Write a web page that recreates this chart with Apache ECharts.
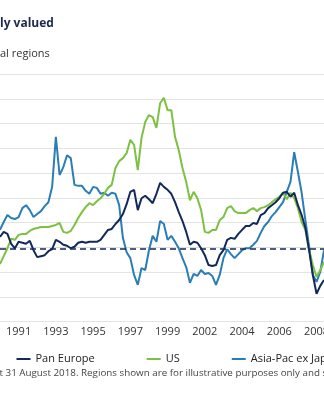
<!DOCTYPE html>
<html>
<head>
<meta charset="utf-8">
<script src="https://cdn.jsdelivr.net/npm/echarts@6/dist/echarts.min.js"></script>
<style>
  html, body { margin: 0; padding: 0; background: #ffffff; overflow: hidden; }
  #chart { width: 324px; height: 400px; }
</style>
</head>
<body>
<div id="chart"></div>
<script>
// Visible tick labels (every 10th sample, starting at sample 5)
const tickLabels = ['1991', '1993', '1995', '1997', '1999', '2002', '2004', '2006', '2008'];

// Valuation readings (relative to long-run average)
const panEurope = [0.21,0.31,0.27,0.07,-0.02,0.11,0.09,0.07,0.13,-0.06,
  -0.20,-0.18,-0.16,-0.08,-0.04,0.15,0.11,0.05,0.03,-0.02,
  0.01,0.09,0.11,0.09,0.11,0.11,0.11,0.15,0.25,0.35,
  0.37,0.47,0.55,0.67,0.87,1.12,1.16,0.75,0.99,1.04,
  0.97,0.89,1.08,1.30,1.22,1.16,1.08,0.91,0.71,0.53,
  0.31,0.05,0.11,0.09,-0.02,-0.16,-0.36,-0.38,-0.36,-0.16,
  -0.06,0.15,0.19,0.17,0.27,0.35,0.43,0.43,0.49,0.47,
  0.65,0.69,0.79,0.85,0.91,0.99,1.10,1.12,1.02,1.10,
  0.85,0.65,0.39,-0.06,-0.56,-0.94,-0.78,-0.66];

const us = [-0.34,-0.18,-0.02,0.17,0.15,0.25,0.27,0.27,0.33,0.37,
  0.39,0.41,0.41,0.41,0.43,0.45,0.49,0.31,0.29,0.33,
  0.45,0.59,0.71,0.81,0.89,0.85,0.93,0.99,1.08,1.20,
  1.26,1.60,1.74,1.80,1.90,2.17,2.07,1.56,2.21,2.53,
  2.67,2.63,2.41,2.91,3.02,2.77,2.77,2.23,1.96,1.60,
  1.32,0.95,1.12,0.99,0.75,0.31,0.29,0.35,0.35,0.55,
  0.61,0.79,0.83,0.73,0.69,0.69,0.69,0.75,0.79,0.73,
  0.79,0.81,0.85,0.91,0.97,1.02,1.10,0.97,1.10,0.99,
  0.79,0.51,0.35,-0.06,-0.36,-0.60,-0.46,-0.30];

const asiaPacExJapan = [0.35,0.51,0.65,0.59,0.57,0.61,0.79,0.85,0.75,0.61,
  0.67,0.73,0.83,0.91,1.22,2.23,1.46,1.62,1.86,1.80,
  1.26,1.24,1.24,1.14,1.08,1.22,1.20,1.08,1.10,1.04,
  1.10,1.08,0.85,0.19,-0.10,-0.22,-0.56,-0.76,-0.42,-0.46,
  -0.06,0.23,0.11,0.53,0.47,0.15,0.23,0.11,-0.02,-0.22,
  -0.40,-0.72,-0.54,-0.58,-0.46,-0.54,-0.52,-0.58,-0.76,-0.56,
  -0.22,-0.04,-0.14,-0.22,-0.14,-0.06,-0.02,-0.02,0.05,0.13,
  0.29,0.43,0.51,0.63,0.71,0.81,0.91,1.12,1.32,1.92,
  1.52,1.10,0.55,0.01,-0.56,-0.70,-0.50,-0.06];

const longRunAverage = -0.03;
const seriesNames = ['Pan Europe', 'US', 'Asia-Pac ex Japan'];

const titleText = 'ly valued';
const subtitleText = 'al regions';
const footerText = 't 31 August 2018. Regions shown are for illustrative purposes only and s';

// Build category axis from tick labels
const FIRST_TICK = 5, TICK_STEP = 10;
const categories = panEurope.map((_, i) => {
  const k = (i - FIRST_TICK) / TICK_STEP;
  return (Number.isInteger(k) && k >= 0 && k < tickLabels.length) ? tickLabels[k] : 's' + i;
});

const FONT = '"Open Sans", "Noto Sans", sans-serif';
const NAVY = '#13295a';
const GREEN = '#7cc142';
const BLUE = '#2a7db5';

const chart = echarts.init(document.getElementById('chart'), null, { renderer: 'canvas' });
chart.setOption({
  backgroundColor: '#ffffff',
  animation: false,
  textStyle: { fontFamily: FONT },
  grid: { left: 0, right: 0, top: 74, bottom: 78.5, containLabel: false, outerBoundsMode: 'none' },
  graphic: [
    { type: 'text', x: 0, y: 24, style: { text: titleText, font: 'bold 12px ' + FONT, fill: '#1c2a4f', verticalAlign: 'middle' } },
    { type: 'text', x: 0, y: 54, style: { text: subtitleText, font: '11px ' + FONT, fill: '#333333', verticalAlign: 'middle' } },
    { type: 'text', x: -0.5, y: 373, style: { text: footerText, font: '9.8px ' + FONT, fill: '#444444', verticalAlign: 'middle' } }
  ],
  legend: {
    data: seriesNames,
    left: 11.5,
    top: 348.5,
    width: 1000,
    icon: 'rect',
    itemWidth: 14,
    itemHeight: 2,
    itemGap: 52,
    textStyle: { fontSize: 11, color: '#222222', fontFamily: FONT }
  },
  xAxis: {
    type: 'category',
    data: categories,
    boundaryGap: false,
    axisLine: { show: true, lineStyle: { color: '#dcdcdc', width: 1 } },
    axisTick: { show: false },
    axisLabel: {
      interval: (i) => (i - FIRST_TICK) % TICK_STEP === 0,
      formatter: (v) => v,
      color: '#333333',
      fontSize: 11,
      margin: 5,
      fontFamily: FONT,
      hideOverlap: false
    },
    splitLine: { show: false }
  },
  yAxis: {
    type: 'value',
    min: -1.5,
    max: 3.5,
    interval: 0.5,
    axisLine: { show: false },
    axisTick: { show: false },
    axisLabel: { show: false },
    splitLine: { show: true, lineStyle: { color: '#e4e4e4', width: 1 } }
  },
  series: [
    {
      name: seriesNames[0], type: 'line', data: panEurope, symbol: 'none', z: 4,
      lineStyle: { color: NAVY, width: 2 }, itemStyle: { color: NAVY },
      markLine: {
        silent: true, symbol: 'none', label: { show: false },
        lineStyle: { color: NAVY, type: [6, 4], width: 1.5 },
        data: [{ yAxis: longRunAverage }]
      }
    },
    {
      name: seriesNames[1], type: 'line', data: us, symbol: 'none', z: 3,
      lineStyle: { color: GREEN, width: 2 }, itemStyle: { color: GREEN }
    },
    {
      name: seriesNames[2], type: 'line', data: asiaPacExJapan, symbol: 'none', z: 2,
      lineStyle: { color: BLUE, width: 2 }, itemStyle: { color: BLUE }
    }
  ]
});
</script>
</body>
</html>
